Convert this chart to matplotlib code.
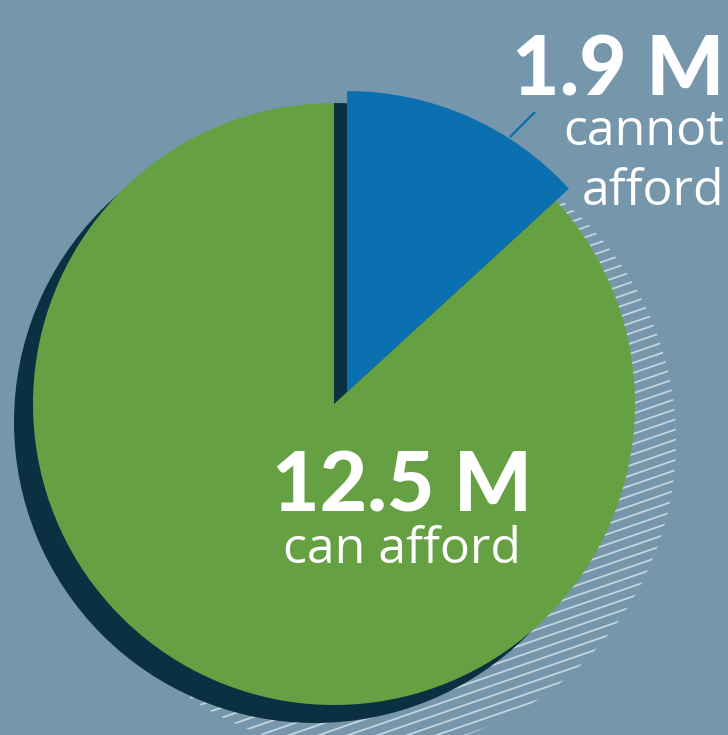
import numpy as np
import matplotlib
matplotlib.use("Agg")
import matplotlib.pyplot as plt
from matplotlib.patches import Wedge, Circle

# --- DATA ---
labels = ["cannot\nafford", "can afford"]
values_m = [1.9, 12.5]          # millions
value_text = ["1.9 M", "12.5 M"]

# --- STYLE ---
W, H = 728, 735
BG = "#7697ab"
BLUE = "#0b70b0"
GREEN = "#65a142"
DARK = "#0a3041"
HATCH = "#d4e1e8"

CENTER = (334, H - 404)
RADIUS = 301
SHADOW_OFF = (-19, -18)
HATCH_CENTER = (365, H - 441)
HATCH_R = 311
EXPLODE = 17.7

fig = plt.figure(figsize=(W / 100, H / 100), dpi=100)
fig.patch.set_facecolor(BG)
ax = fig.add_axes([0, 0, 1, 1])
ax.set_xlim(0, W)
ax.set_ylim(0, H)
ax.set_aspect("equal")
ax.axis("off")

# hatched "shadow" disc on the right
clip = Circle(HATCH_CENTER, HATCH_R, facecolor="none", edgecolor="none", zorder=0.1)
ax.add_patch(clip)
ang = np.deg2rad(19)
d = np.array([np.cos(ang), np.sin(ang)])
n = np.array([-np.sin(ang), np.cos(ang)])
for k in np.arange(-HATCH_R, HATCH_R, 9.6):
    p = np.array(HATCH_CENTER) + n * k
    a, b = p - d * 400, p + d * 400
    ln, = ax.plot([a[0], b[0]], [a[1], b[1]], color=HATCH, lw=1.3, alpha=0.85,
                  solid_capstyle="butt", zorder=0.2)
    ln.set_clip_path(clip)

# slice angles from data
fracs = np.array(values_m) / sum(values_m)
start = 90.0
theta2 = start
edges = []
for f in fracs:
    theta1 = theta2 - 360 * f
    edges.append((theta1, theta2))
    theta2 = theta1

# dark shadow: full disc offset down-left, plus the small slice at its home position
ax.add_patch(Circle((CENTER[0] + SHADOW_OFF[0], CENTER[1] + SHADOW_OFF[1]), RADIUS,
                    facecolor=DARK, edgecolor="none", zorder=0.5))
ax.add_patch(Wedge(CENTER, RADIUS, edges[0][0], edges[0][1], facecolor=DARK,
                   edgecolor="none", zorder=0.5))

# pie
wedges, _ = ax.pie(values_m, colors=[BLUE, GREEN], startangle=start, counterclock=False,
                   center=CENTER, radius=RADIUS, wedgeprops=dict(linewidth=0), frame=True)
for w in wedges:
    w.set_zorder(1)
ax.set_xlim(0, W)
ax.set_ylim(0, H)
ax.axis("off")

# slide the small slice outward along its lower edge
t = np.deg2rad(edges[0][0])
wedges[0].set_center((CENTER[0] + EXPLODE * np.cos(t), CENTER[1] + EXPLODE * np.sin(t)))

# leader line
ax.plot([510, 535], [H - 137, H - 112], color=BLUE, lw=1.7, solid_capstyle="butt")

# labels
ax.text(724, H - 95, value_text[0], color="white", fontsize=59, fontweight="black",
        family="Lato", ha="right", va="baseline")
ax.text(724, H - 145, labels[0].split("\n")[0], color="white", fontsize=36,
        fontweight="normal", family="Open Sans", ha="right", va="baseline")
ax.text(724, H - 205, labels[0].split("\n")[1], color="white", fontsize=36,
        fontweight="normal", family="Open Sans", ha="right", va="baseline")

ax.text(402, H - 512, value_text[1], color="white", fontsize=59, fontweight="black",
        family="Lato", ha="center", va="baseline")
ax.text(402, H - 563, labels[1], color="white", fontsize=36, fontweight="normal",
        family="Open Sans", ha="center", va="baseline")

fig.savefig("out.png", dpi=100, facecolor=BG)
